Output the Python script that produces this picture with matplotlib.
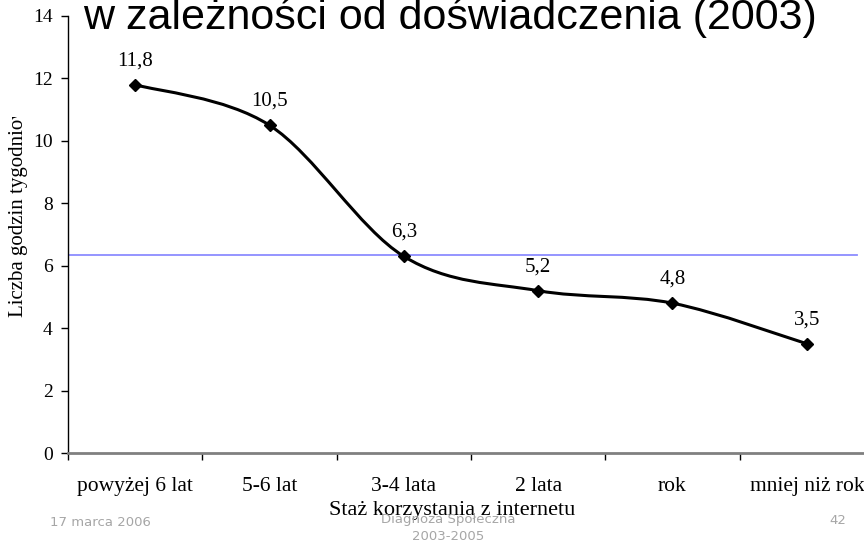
import matplotlib
matplotlib.use("Agg")
import matplotlib.pyplot as plt
import numpy as np
from matplotlib.path import Path
from matplotlib.patches import PathPatch
from matplotlib.transforms import Bbox, TransformedBbox

# --- data ---
categories = ["powyżej 6 lat", "5-6 lat", "3-4 lata", "2 lata", "rok", "mniej niż rok"]
hours = [11.8, 10.5, 6.3, 5.2, 4.8, 3.5]
value_labels = ["11,8", "10,5", "6,3", "5,2", "4,8", "3,5"]
mean_level = 6.35

title = "w zależności od doświadczenia (2003)"
ylabel = "Liczba godzin tygodniowo"
xlabel = "Staż korzystania z internetu"
footer_left = "17 marca 2006"
footer_mid = "Diagnoza Społeczna\n2003-2005"
footer_right = "42"

W, H = 864, 543
fig = plt.figure(figsize=(W / 100, H / 100), dpi=100)
# axes run past the right edge, like the cropped slide
ax = fig.add_axes([68 / W, 90 / H, 806 / W, 437 / H])

x = np.arange(len(categories))
ax.set_xlim(-0.5, len(categories) - 0.5)
ax.set_ylim(0, 14)

# Excel-style smoothed line as cubic bezier segments
pts = np.column_stack([x, hours]).astype(float)
ext = np.vstack([pts[0], pts, pts[-1]])
verts = [tuple(pts[0])]
codes = [Path.MOVETO]
for i in range(len(pts) - 1):
    p0, p1, p2, p3 = ext[i], ext[i + 1], ext[i + 2], ext[i + 3]
    c1 = p1 + (p2 - p0) / 6
    c2 = p2 - (p3 - p1) / 6
    verts += [tuple(c1), tuple(c2), tuple(p2)]
    codes += [Path.CURVE4] * 3
ax.add_patch(PathPatch(Path(verts, codes), facecolor="none", edgecolor="black", lw=2.2, zorder=3))
ax.plot(x, hours, ls="none", marker="D", ms=6.5, color="black", zorder=4)

ax.axhline(mean_level, xmin=0, xmax=789 / 806, color="#8c8cff", lw=1.3, zorder=2)

serif = ["Liberation Serif", "DejaVu Serif"]
for xi, yi, lab in zip(x, hours, value_labels):
    ax.annotate(lab, (xi, yi), textcoords="offset points", xytext=(0, 14),
                ha="center", va="baseline", fontsize=15, family=serif)

ax.spines["top"].set_visible(False)
ax.spines["right"].set_visible(False)
ax.spines["left"].set_linewidth(1.0)
ax.spines["bottom"].set_color("#808080")
ax.spines["bottom"].set_linewidth(2.0)

ax.set_yticks(np.arange(0, 15, 2))
ax.tick_params(axis="y", direction="out", length=5, width=1, labelsize=14, pad=6)
for t in ax.get_yticklabels():
    t.set_family(serif)

ax.set_xticks(np.arange(-0.5, len(categories), 1.0))
ax.set_xticklabels([])
ax.tick_params(axis="x", which="major", direction="out", length=5, width=1, color="black")
ax.set_xticks(x, minor=True)
ax.set_xticklabels(categories, minor=True, fontsize=15.5, family=serif)
ax.tick_params(axis="x", which="minor", length=0, pad=17)

fig.text(452 / W, 1 - 511 / H, xlabel, ha="center", va="center", fontsize=16, family=serif)

yl = fig.text(19 / W, 1 - 317 / H, ylabel, rotation=90, ha="center", va="bottom",
              fontsize=15, family=serif)
yl.set_clip_box(TransformedBbox(Bbox([[0, 0], [1, 1 - 117 / H]]), fig.transFigure))
yl.set_clip_on(True)

fig.text(450 / W, 1 - 29 / H, title, ha="center", va="baseline",
         fontsize=31, family=["Liberation Sans", "DejaVu Sans"])

gray = "#a6a6a6"
fig.text(50 / W, 1 - 522 / H, footer_left, ha="left", va="center", fontsize=9.5, color=gray)
fig.text(448 / W, 1 - 528 / H, footer_mid, ha="center", va="center", fontsize=9.5,
         color=gray, linespacing=1.3)
fig.text(838 / W, 1 - 521 / H, footer_right, ha="center", va="center", fontsize=9.5, color=gray)

fig.savefig("out.png", dpi=100)
